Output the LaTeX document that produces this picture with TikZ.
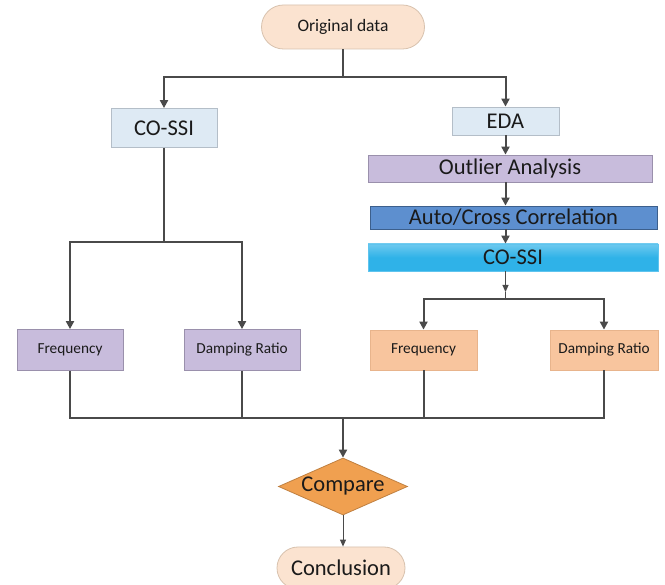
\documentclass[tikz,border=0pt]{standalone}
\usepackage{fontspec}
\setmainfont{Carlito}
\usetikzlibrary{shapes.geometric,shapes.misc,arrows.meta}
\definecolor{peach}{HTML}{FBE3D0}
\definecolor{peachline}{HTML}{D8C2AE}
\definecolor{paleblue}{HTML}{DEEAF4}
\definecolor{palebline}{HTML}{B4BEC8}
\definecolor{lav}{HTML}{C8BCDC}
\definecolor{lavline}{HTML}{9A90AC}
\definecolor{midblue}{HTML}{5D8FCF}
\definecolor{midbline}{HTML}{3C5F8C}
\definecolor{cyanb}{HTML}{2FB2E8}
\definecolor{cyanline}{HTML}{5FC4EE}
\definecolor{orangebox}{HTML}{F8C59E}
\definecolor{orangeline}{HTML}{E8B48C}
\definecolor{comp}{HTML}{F0A050}
\definecolor{ln}{HTML}{4A4A4A}
\definecolor{txt}{HTML}{1A1A1A}
\tikzset{
  base/.style={inner sep=0pt, text=txt, line width=0.8pt},
  stadium/.style={base, rounded rectangle, fill=peach, draw=peachline},
  paleb/.style={base, rectangle, fill=paleblue, draw=palebline},
  lavbox/.style={base, rectangle, fill=lav, draw=lavline},
  bluebox/.style={base, rectangle, fill=midblue, draw=midbline},
  cyanbox/.style={base, rectangle, top color=cyanb!70!white, bottom color=cyanb, middle color=cyanb, draw=cyanline},
  orbox/.style={base, rectangle, fill=orangebox, draw=orangeline},
  dia/.style={base, diamond, fill=comp, draw=comp!80!black, aspect=2.26},
  conn/.style={draw=ln, line width=2pt},
  arr/.style={conn, -{Triangle[length=8pt,width=8pt]}},
  thinarr/.style={draw=ln, line width=0.9pt, -{Triangle[length=7pt,width=6pt]}},
  fbig/.style={font=\fontsize{22.5}{24}\selectfont},
  fmid/.style={font=\fontsize{17.5}{20}\selectfont},
  fsmall/.style={font=\fontsize{15.3}{18}\selectfont},
}
\begin{document}
\begin{tikzpicture}[x=1pt,y=-1pt]
\useasboundingbox[fill=white] (0,0) rectangle (665,585);
% nodes
\node[stadium, fmid, minimum width=163pt, minimum height=44pt] (orig) at (343,27) {Original data};
\node[paleb, fbig, minimum width=106pt, minimum height=39pt] (cossiL) at (164,128) {CO-SSI};
\node[paleb, fbig, minimum width=107pt, minimum height=28pt] (eda) at (505.5,121) {EDA};
\node[lavbox, fbig, minimum width=284pt, minimum height=27pt] (outl) at (510,168.5) {Outlier Analysis};
\node[bluebox, fbig, minimum width=287pt, minimum height=23pt] (auto) at (513.5,217.5) {Auto/Cross Correlation};
\node[cyanbox, fbig, minimum width=290pt, minimum height=27pt] (cossiR) at (513,257.5) {CO-SSI};
\node[lavbox, fsmall, minimum width=106pt, minimum height=41pt] (freqL) at (70,350) {Frequency};
\node[lavbox, fsmall, minimum width=116pt, minimum height=41pt] (dampL) at (242,350) {Damping Ratio};
\node[orbox, fsmall, minimum width=107pt, minimum height=40pt] (freqR) at (423.5,350) {Frequency};
\node[orbox, fsmall, minimum width=108pt, minimum height=40pt] (dampR) at (604,350) {Damping Ratio};
\node[dia, fbig, minimum width=129pt, minimum height=57pt] (compare) at (343,486.5) {Compare};
\node[stadium, fbig, minimum width=128pt, minimum height=42pt] (concl) at (341,568) {Conclusion};
% junction coordinates
\coordinate (j1) at (343,77);
\coordinate (j2) at (164,242);
\coordinate (j3) at (505.5,299);
\coordinate (j3a) at (505.5,292);
\coordinate (j4) at (343,418);
% top split
\draw[conn] (orig.south) -- (j1);
\draw[arr] (j1) -| (cossiL.north);
\draw[arr] (j1) -| (eda.north);
% right chain
\draw[arr] (eda.south) -- (eda.south |- outl.north);
\draw[arr] (outl.south -| eda.south) -- (eda.south |- auto.north);
\draw[arr] (auto.south -| eda.south) -- (eda.south |- cossiR.north);
\draw[thinarr] (cossiR.south -| j3) -- (j3a);
\draw[draw=ln, line width=0.9pt] (j3a) -- (j3);
\draw[arr] (j3) -| (freqR.north);
\draw[arr] (j3) -| (dampR.north);
% left chain
\draw[conn] (cossiL.south) -- (j2);
\draw[arr] (j2) -| (freqL.north);
\draw[arr] (j2) -| (dampL.north);
% bottom merge
\draw[conn] (freqL.south) |- (j4);
\draw[conn] (dampR.south) |- (j4);
\draw[conn] (dampL.south) -- (dampL.south |- j4);
\draw[conn] (freqR.south) -- (freqR.south |- j4);
\draw[arr] (j4) -- (compare.north);
\draw[thinarr] (compare.south) -- (compare.south |- concl.north);
\end{tikzpicture}
\end{document}
